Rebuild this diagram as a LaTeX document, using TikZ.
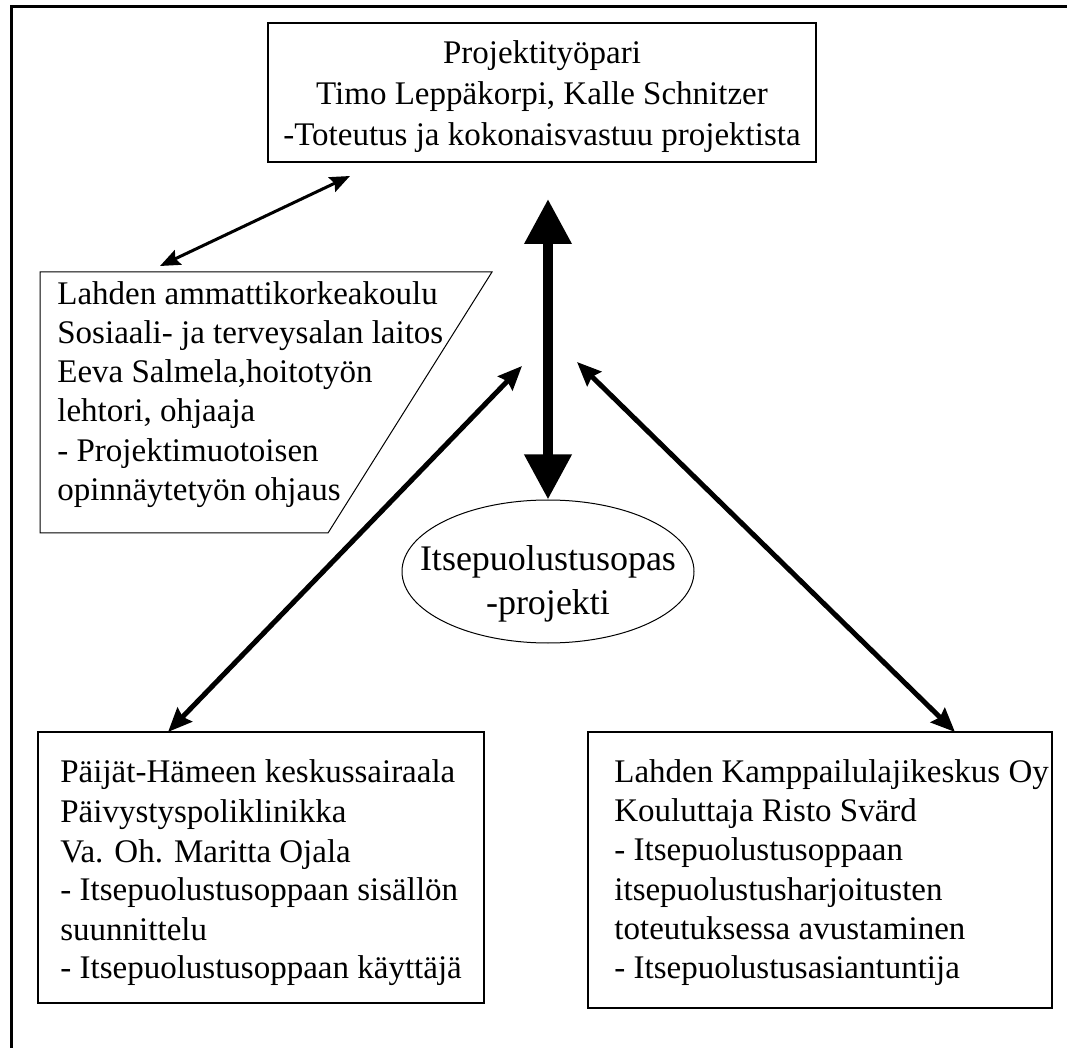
\documentclass[tikz,border=0pt]{standalone}
\usepackage{fontspec}
\setmainfont{Liberation Serif}
\usetikzlibrary{arrows.meta,shapes.geometric}

\tikzset{
  txt/.style={font=\fontsize{16.5}{19.6}\selectfont,inner sep=0pt},
  bigtxt/.style={font=\fontsize{18}{22}\selectfont,inner sep=0pt},
  box/.style={draw,line width=1pt,rectangle,inner sep=0pt},
  thinarr/.style={line width=1.5pt,{Stealth[length=10pt,width=8pt,inset=1.5pt]}-{Stealth[length=10pt,width=8pt,inset=1.5pt]}},
  diagarr/.style={line width=2.5pt,{Stealth[length=12pt,width=10pt,inset=1.5pt]}-{Stealth[length=12pt,width=10pt,inset=1.5pt]}},
  fatarr/.style={line width=5pt,{Triangle[length=22.5pt,width=22.5pt]}-{Triangle[length=22.5pt,width=22.5pt]}}
}

\begin{document}
\begin{tikzpicture}[x=0.5pt,y=-0.5pt]
\useasboundingbox (0,0) rectangle (1067,1048);
% frame of the page
\draw [line width=1.5pt] (11,1070) -- (11,7) -- (1090,7);

% Projektityopari
\node [box,minimum width=274pt,minimum height=69.5pt] (pari) at (542,92.5) {};
\node [txt,anchor=base] (pari1) at (542,64) {Projektityöpari};
\node [txt,anchor=base] (pari2) at (542,105) {Timo Leppäkorpi, Kalle Schnitzer};
\node [txt,anchor=base] (pari3) at (542,146) {-Toteutus ja kokonaisvastuu projektista};

% Lahden ammattikorkeakoulu
\draw [line width=0.5pt] (40,272) -- (492,272) -- (328,533) -- (40,533) -- cycle;
\node [txt,anchor=base west] (lamk1) at (57,305) {Lahden ammattikorkeakoulu};
\node [txt,anchor=base west] (lamk2) at (57,344) {Sosiaali- ja terveysalan laitos};
\node [txt,anchor=base west] (lamk3) at (57,383) {Eeva Salmela,hoitotyön};
\node [txt,anchor=base west] (lamk4) at (57,422) {lehtori, ohjaaja};
\node [txt,anchor=base west] (lamk5) at (57,462) {- Projektimuotoisen};
\node [txt,anchor=base west] (lamk6) at (57,501) {opinnäytetyön ohjaus};

% Itsepuolustusopas
\node [draw,line width=0.5pt,ellipse,minimum width=146pt,minimum height=71.5pt] (opas) at (548,571.5) {};
\node [bigtxt,anchor=base] (opas1) at (548,570) {Itsepuolustusopas};
\node [bigtxt,anchor=base] (opas2) at (548,614) {-projekti};

% Paijat-Hameen keskussairaala
\node [box,minimum width=223pt,minimum height=135.5pt] (phks) at (261,867.5) {};
\node [txt,anchor=base west] (phks1) at (60,782) {Päijät-Hämeen keskussairaala};
\node [txt,anchor=base west] (phks2) at (60,822) {Päivystyspoliklinikka};
\node [txt,anchor=base west] (phks3) at (60,862) {Va. Oh. Maritta Ojala};
\node [txt,anchor=base west] (phks4) at (60,900) {- Itsepuolustusoppaan sisällön};
\node [txt,anchor=base west] (phks5) at (60,940) {suunnittelu};
\node [txt,anchor=base west] (phks6) at (60,978) {- Itsepuolustusoppaan käyttäjä};

% Lahden Kamppailulajikeskus
\node [box,minimum width=232pt,minimum height=138pt] (kamp) at (820,870) {};
\node [txt,anchor=base west] (kamp1) at (614,782) {Lahden Kamppailulajikeskus Oy};
\node [txt,anchor=base west] (kamp2) at (614,821) {Kouluttaja Risto Svärd};
\node [txt,anchor=base west] (kamp3) at (614,860) {- Itsepuolustusoppaan};
\node [txt,anchor=base west] (kamp4) at (614,900) {itsepuolustusharjoitusten};
\node [txt,anchor=base west] (kamp5) at (614,939) {toteutuksessa avustaminen};
\node [txt,anchor=base west] (kamp6) at (614,978) {- Itsepuolustusasiantuntija};

% arrow ends
\coordinate (pariend) at (350,176);
\coordinate (lamkend) at (160,266);
\coordinate (fattop) at (548,199);
\coordinate (leftend) at (522,366);
\coordinate (rightend) at (577,362);
\coordinate (phksend) at (168,732);
\coordinate (kampend) at (955,732);

\draw [thinarr] (lamkend) -- (pariend);
\draw [fatarr] (fattop) -- (opas.north);
\draw [diagarr] (phksend) -- (leftend);
\draw [diagarr] (kampend) -- (rightend);
\end{tikzpicture}
\end{document}
